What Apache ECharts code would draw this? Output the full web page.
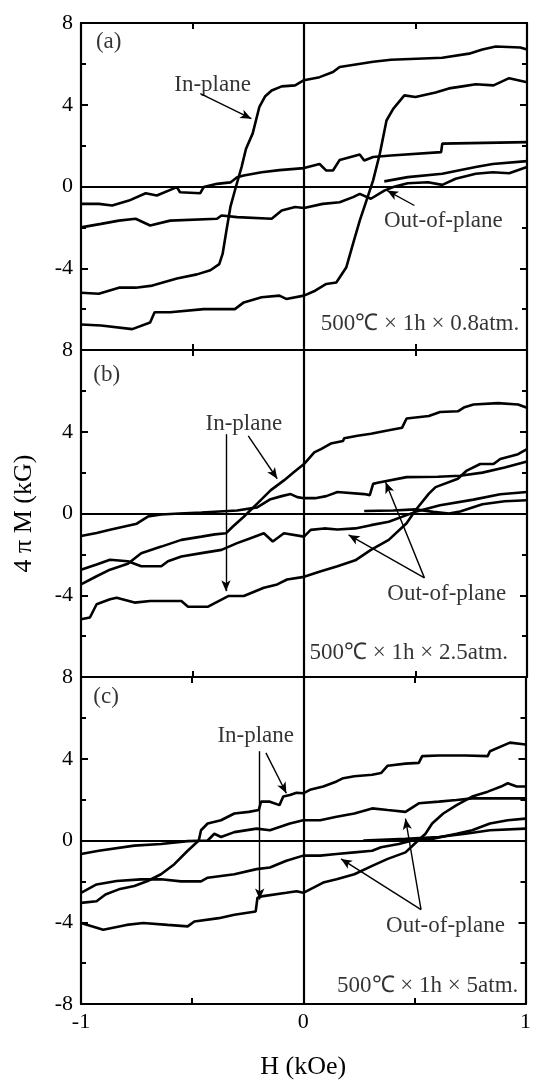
<!DOCTYPE html>
<html><head><meta charset="utf-8">
<script src="https://cdn.jsdelivr.net/npm/echarts@6/dist/echarts.min.js"></script>
<style>html,body{margin:0;padding:0;background:#fff}#c{width:534px;height:1083px}</style>
</head><body><div id="c"></div>
<script>
// ---------- DATA (H in kOe, 4πM in kG) ----------
const xTicks = [-1, 0, 1];
const yTicks = [-8, -4, 0, 4, 8];

// Panel (a) 500°C x 1h x 0.8 atm
const ipDownA = [[1.0,6.7],[0.97,6.8],[0.86,6.85],[0.80,6.7],[0.74,6.5],[0.62,6.3],[0.39,6.2],[0.31,6.1],[0.16,5.85],[0.13,5.6],[0.07,5.35],[0,5.2],[-0.04,4.95],[-0.10,4.9],[-0.145,4.7],[-0.175,4.4],[-0.2,3.9],[-0.23,2.6],[-0.26,1.85],[-0.28,0.95],[-0.305,0],[-0.33,-1],[-0.35,-2.3],[-0.365,-3.3],[-0.38,-3.8],[-0.42,-4.1],[-0.48,-4.3],[-0.57,-4.5],[-0.68,-4.85],[-0.755,-4.95],[-0.83,-4.95],[-0.92,-5.25],[-1.0,-5.2]];
const ipUpA = [[-1.0,-6.75],[-0.91,-6.8],[-0.77,-6.98],[-0.69,-6.65],[-0.67,-6.15],[-0.60,-6.15],[-0.45,-6.0],[-0.31,-6.0],[-0.27,-5.67],[-0.19,-5.42],[-0.11,-5.34],[-0.08,-5.5],[0,-5.34],[0.05,-5.1],[0.10,-4.77],[0.145,-4.7],[0.19,-3.95],[0.22,-2.8],[0.25,-1.67],[0.28,-0.69],[0.31,0.3],[0.34,1.6],[0.37,3.23],[0.40,3.8],[0.45,4.46],[0.50,4.38],[0.59,4.6],[0.65,4.8],[0.71,4.9],[0.77,5.0],[0.85,4.95],[0.92,5.3],[1.0,5.1]];
const oopDownA = [[1.0,2.17],[0.62,2.1],[0.615,1.68],[0.39,1.52],[0.31,1.44],[0.27,1.27],[0.25,1.57],[0.16,1.3],[0.13,0.78],[0.10,0.78],[0.07,1.1],[0,0.9],[-0.11,0.8],[-0.19,0.7],[-0.27,0.54],[-0.30,0.45],[-0.33,0.2],[-0.39,0.13],[-0.45,-0.03],[-0.465,-0.33],[-0.556,-0.28],[-0.57,-0.03],[-0.66,-0.44],[-0.71,-0.33],[-0.785,-0.69],[-0.86,-0.93],[-0.92,-0.85],[-1.0,-0.85]];
const oopUpA = [[-1.0,-2.0],[-0.91,-1.83],[-0.83,-1.67],[-0.755,-1.58],[-0.69,-1.91],[-0.60,-1.67],[-0.39,-1.58],[-0.37,-1.42],[-0.30,-1.5],[-0.145,-1.58],[-0.10,-1.18],[-0.04,-1.0],[0,-1.05],[0.084,-0.85],[0.16,-0.77],[0.22,-0.52],[0.25,-0.36],[0.30,-0.6],[0.36,-0.2],[0.40,-0.03],[0.465,0.16],[0.556,0.21],[0.62,0.08],[0.68,0.38],[0.77,0.62],[0.846,0.7],[0.92,0.65],[1.0,0.95]];
const oopExtraA = [[0.36,0.25],[0.465,0.46],[0.62,0.62],[0.77,0.95],[0.846,1.1],[1.0,1.24]];

// Panel (b) 500°C x 1h x 2.5 atm
const ipDownB = [[1.0,5.17],[0.96,5.33],[0.87,5.4],[0.76,5.33],[0.72,5.2],[0.69,5.0],[0.61,4.97],[0.56,4.77],[0.46,4.65],[0.44,4.2],[0.38,4.07],[0.30,3.9],[0.24,3.8],[0.18,3.68],[0.175,3.55],[0.12,3.42],[0.076,3.15],[0.046,2.99],[0,2.42],[-0.046,2.02],[-0.09,1.62],[-0.15,1.13],[-0.21,0.48],[-0.27,-0.16],[-0.32,-0.65],[-0.35,-0.97],[-0.40,-1.02],[-0.46,-1.13],[-0.55,-1.29],[-0.64,-1.62],[-0.73,-1.94],[-0.79,-2.46],[-0.87,-2.75],[-0.93,-3.07],[-1.0,-3.47]];
const ipUpB = [[-1.0,-5.17],[-0.96,-5.09],[-0.93,-4.44],[-0.87,-4.2],[-0.84,-4.12],[-0.76,-4.36],[-0.69,-4.28],[-0.55,-4.28],[-0.52,-4.56],[-0.43,-4.56],[-0.34,-4.04],[-0.27,-4.04],[-0.18,-3.63],[-0.12,-3.47],[-0.076,-3.23],[0,-3.1],[0.076,-2.83],[0.15,-2.58],[0.23,-2.29],[0.30,-1.78],[0.38,-1.29],[0.46,-0.48],[0.50,0.16],[0.56,0.97],[0.59,1.29],[0.69,1.7],[0.73,2.1],[0.79,2.42],[0.85,2.42],[0.88,2.67],[0.96,2.9],[1.0,3.15]];
const oopDownB = [[1.0,2.55],[0.9,2.25],[0.8,2.0],[0.7,1.85],[0.6,1.8],[0.46,1.78],[0.33,1.5],[0.31,1.45],[0.295,0.9],[0.27,0.95],[0.15,1.05],[0.1,0.85],[0.05,0.75],[0,0.75],[-0.03,0.8],[-0.06,0.95],[-0.1,0.85],[-0.15,0.7],[-0.21,0.3],[-0.3,0.15],[-0.38,0.1],[-0.46,0.05],[-0.56,0.0],[-0.64,-0.05],[-0.7,-0.15],[-0.75,-0.5],[-0.87,-0.8],[-0.93,-0.95],[-1.0,-1.1]];
const oopUpB = [[-1.0,-2.75],[-0.93,-2.5],[-0.87,-2.26],[-0.79,-2.34],[-0.73,-2.58],[-0.64,-2.58],[-0.61,-2.34],[-0.55,-2.1],[-0.46,-1.94],[-0.37,-1.78],[-0.30,-1.45],[-0.24,-1.21],[-0.18,-0.97],[-0.14,-1.37],[-0.09,-0.97],[0,-1.13],[0.03,-0.8],[0.09,-0.73],[0.15,-0.78],[0.23,-0.73],[0.30,-0.57],[0.38,-0.4],[0.46,-0.08],[0.50,0.08],[0.61,0.4],[0.76,0.68],[0.88,0.94],[1.0,1.05]];
const oopExtraB = [[0.27,0.12],[0.4,0.15],[0.5,0.2],[0.58,0.08],[0.65,0.0],[0.7,0.1],[0.8,0.45],[0.9,0.6],[1.0,0.65]];

// Panel (c) 500°C x 1h x 5 atm
const ipDownC = [[1.0,4.7],[0.93,4.79],[0.84,4.37],[0.83,4.13],[0.73,4.16],[0.61,4.16],[0.535,4.13],[0.52,3.8],[0.46,3.76],[0.38,3.66],[0.35,3.3],[0.31,3.22],[0.23,3.14],[0.18,3.05],[0.15,2.89],[0.09,2.64],[0.03,2.48],[0,2.31],[-0.03,2.34],[-0.06,2.23],[-0.09,2.15],[-0.107,1.73],[-0.15,1.9],[-0.19,1.9],[-0.2,1.49],[-0.245,1.4],[-0.31,1.32],[-0.37,0.99],[-0.43,0.83],[-0.46,0.5],[-0.47,0],[-0.52,-0.5],[-0.58,-1.16],[-0.64,-1.65],[-0.70,-1.98],[-0.76,-2.23],[-0.83,-2.39],[-0.89,-2.64],[-0.93,-2.97],[-1.0,-3.05]];
const ipUpC = [[-1.0,-4.04],[-0.9,-4.37],[-0.795,-4.13],[-0.72,-4.04],[-0.61,-4.13],[-0.52,-4.2],[-0.49,-3.96],[-0.38,-3.8],[-0.31,-3.63],[-0.214,-3.47],[-0.206,-2.8],[-0.18,-2.72],[-0.076,-2.56],[-0.03,-2.48],[0,-2.56],[0.046,-2.31],[0.09,-2.06],[0.15,-1.9],[0.23,-1.65],[0.31,-1.24],[0.38,-0.9],[0.46,-0.58],[0.50,-0.17],[0.55,0.33],[0.58,0.83],[0.63,1.32],[0.69,1.73],[0.76,2.15],[0.83,2.39],[0.89,2.64],[0.92,2.8],[0.96,2.64],[1.0,2.64]];
const oopDownC = [[1.0,2.06],[0.76,2.06],[0.69,1.98],[0.61,1.9],[0.52,1.82],[0.46,1.4],[0.38,1.49],[0.31,1.57],[0.23,1.32],[0.15,1.16],[0.076,0.99],[0,0.99],[-0.06,0.83],[-0.15,0.5],[-0.21,0.58],[-0.31,0.41],[-0.37,0.17],[-0.4,0.33],[-0.43,0],[-0.52,-0.03],[-0.64,-0.17],[-0.76,-0.25],[-0.92,-0.5],[-1.0,-0.66]];
const oopUpC = [[-1.0,-2.56],[-0.93,-2.15],[-0.84,-1.98],[-0.73,-1.9],[-0.64,-1.9],[-0.55,-2.0],[-0.46,-2.0],[-0.43,-1.82],[-0.31,-1.65],[-0.21,-1.4],[-0.15,-1.32],[-0.076,-0.99],[0,-0.74],[0.076,-0.74],[0.15,-0.66],[0.23,-0.58],[0.31,-0.5],[0.35,-0.33],[0.43,-0.17],[0.49,0],[0.58,0.08],[0.69,0.33],[0.76,0.5],[0.84,0.83],[0.92,0.99],[1.0,1.07]];
const oopExtraC = [[0.27,0.0],[0.46,0.08],[0.61,0.17],[0.73,0.33],[0.84,0.5],[1.0,0.58]];

// Annotation texts [text, H, 4πM]
const textsA = [['(a)',-0.876,7.07],['In-plane',-0.41,4.95],['Out-of-plane',0.625,-1.67],['500℃ × 1h × 0.8atm.',0.52,-6.73]];
const textsB = [['(b)',-0.885,6.8],['In-plane',-0.27,4.36],['Out-of-plane',0.64,-3.96],['500℃ × 1h × 2.5atm.',0.47,-6.8]];
const textsC = [['(c)',-0.887,7.0],['In-plane',-0.214,5.1],['Out-of-plane',0.64,-4.2],['500℃ × 1h × 5atm.',0.56,-7.1]];
// Arrows [H0, M0, H1, M1]
const arrowsA = [[-0.465,4.54,-0.236,3.32],[0.495,-0.93,0.373,-0.2]];
const arrowsB = [[-0.35,3.88,-0.35,-3.8],[-0.25,3.8,-0.12,1.7],[0.54,-3.15,0.366,1.53],[0.54,-3.15,0.2,-1.05]];
const arrowsC = [[-0.196,4.37,-0.196,-2.89],[-0.168,4.29,-0.076,2.31],[0.53,-3.38,0.46,1.07],[0.53,-3.38,0.17,-0.9]];

// ---------- CHART ----------
const FONT = '"Liberation Serif","Times New Roman",serif';
const panels = [
  {curves:[ipDownA, ipUpA, oopDownA, oopUpA, oopExtraA], texts:textsA, arrows:arrowsA},
  {curves:[ipDownB, ipUpB, oopDownB, oopUpB, oopExtraB], texts:textsB, arrows:arrowsB},
  {curves:[ipDownC, ipUpC, oopDownC, oopUpC, oopExtraC], texts:textsC, arrows:arrowsC}
];
const tops = [23, 350, 677], H = 327;
const grid = [], xAxis = [], yAxis = [], series = [];
const axLine = {show:true, onZero:false, lineStyle:{color:'#000', width:2.2}};
panels.forEach((p, i) => {
  const last = i === 2;
  grid.push({left:81, right:7, top:tops[i], height:H});
  const xb = {type:'value', gridIndex:i, min:xTicks[0], max:xTicks[xTicks.length-1], interval:0.5,
    axisLine:axLine, splitLine:{show:false},
    axisTick:{show:true, inside:true, length:6, lineStyle:{color:'#000', width:2}}};
  xAxis.push(Object.assign({}, xb, {position:'bottom',
    name: last ? 'H (kOe)' : '', nameLocation:'middle', nameGap:50,
    nameTextStyle:{fontFamily:FONT, fontSize:26, color:'#000'},
    axisLabel:{show:last, fontFamily:FONT, fontSize:22, color:'#000', margin:7,
      formatter: v => xTicks.includes(v) ? String(v) : ''}}));
  xAxis.push(Object.assign({}, xb, {position:'top', axisLabel:{show:false}}));
  const yb = {type:'value', gridIndex:i, min:yTicks[0], max:yTicks[yTicks.length-1], interval:4,
    axisLine:axLine, splitLine:{show:false},
    axisTick:{show:true, inside:true, length:7, lineStyle:{color:'#000', width:2}},
    minorTick:{show:true, splitNumber:2, length:5, lineStyle:{color:'#000', width:2}}};
  yAxis.push(Object.assign({}, yb, {position:'left',
    name: i === 1 ? '4 π M (kG)' : '', nameLocation:'middle', nameGap:44, nameRotate:90,
    nameTextStyle:{fontFamily:FONT, fontSize:26, color:'#000'},
    axisLabel:{fontFamily:FONT, fontSize:22, color:'#000', margin:8,
      formatter: v => (!last && v === yTicks[0]) ? '' : String(v)}}));
  yAxis.push(Object.assign({}, yb, {position:'right', axisLabel:{show:false}}));
  const xi = i*2, yi = i*2;
  p.curves.forEach((d, k) => {
    const s = {type:'line', xAxisIndex:xi, yAxisIndex:yi, data:d, symbol:'none', silent:true,
      lineStyle:{color:'#000', width:2.6}, z:3};
    if (k === 0) s.markLine = {silent:true, symbol:['none','none'], animation:false,
      lineStyle:{color:'#000', width:2.2, type:'solid'}, label:{show:false},
      data:[{yAxis:0}, {xAxis:0}]};
    if (k === 1) s.markLine = {silent:true, symbol:['none','arrow'], symbolSize:[7,11], animation:false,
      lineStyle:{color:'#000', width:1.4, type:'solid'}, label:{show:false},
      data:p.arrows.map(a => [{coord:[a[0],a[1]]},{coord:[a[2],a[3]]}])};
    series.push(s);
  });
  series.push({type:'scatter', xAxisIndex:xi, yAxisIndex:yi, symbolSize:0, silent:true, z:5,
    data:p.texts.map(t => ({name:t[0], value:[t[1],t[2]]})),
    label:{show:true, position:'inside', formatter:'{b}', fontFamily:FONT, fontSize:23, color:'#000'}});
});
const chart = echarts.init(document.getElementById('c'), null, {renderer:'canvas'});
chart.setOption({animation:false, backgroundColor:'#fff', grid, xAxis, yAxis, series});
</script></body></html>
